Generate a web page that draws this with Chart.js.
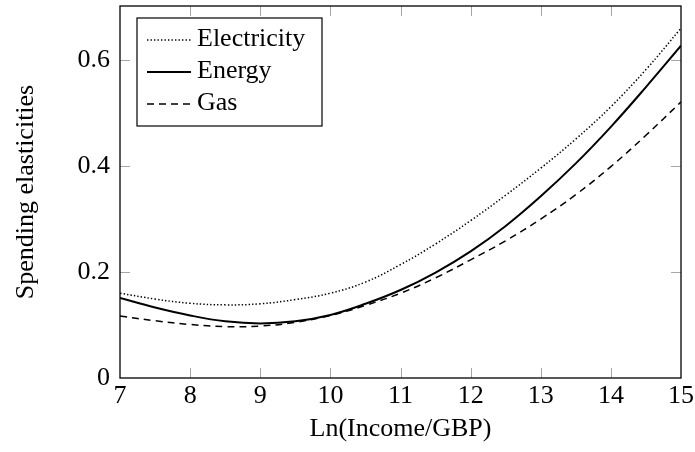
<!DOCTYPE html>
<html>
<head>
<meta charset="utf-8">
<script src="https://cdn.jsdelivr.net/npm/chart.js@4.4.0/dist/chart.umd.min.js"></script>
<style>
  html, body { margin: 0; padding: 0; background: #fff; }
  #wrap { width: 695px; height: 452px; position: relative; }
</style>
</head>
<body>
<div id="wrap"><canvas id="c" width="695" height="452"></canvas></div>
<script>
const xValues = [7, 7.5, 8, 8.5, 9, 9.5, 10, 10.5, 11, 11.5, 12, 12.5, 13, 13.5, 14, 14.5, 15];
const electricity = [0.160, 0.149, 0.141, 0.138, 0.140, 0.148, 0.160, 0.181, 0.214, 0.253, 0.297, 0.345, 0.396, 0.451, 0.512, 0.582, 0.660];
const energy      = [0.151, 0.133, 0.118, 0.107, 0.103, 0.107, 0.119, 0.140, 0.166, 0.199, 0.239, 0.287, 0.343, 0.405, 0.474, 0.549, 0.627];
const gas         = [0.117, 0.108, 0.101, 0.097, 0.098, 0.105, 0.118, 0.137, 0.160, 0.189, 0.223, 0.259, 0.300, 0.346, 0.399, 0.458, 0.521];
const seriesNames = ['Electricity', 'Energy', 'Gas'];
const xTicks = [7, 8, 9, 10, 11, 12, 13, 14, 15];
const yTicks = [0, 0.2, 0.4, 0.6];
const yTickLabels = ['0', '0.2', '0.4', '0.6'];
const xTitle = 'Ln(Income/GBP)';
const yTitle = 'Spending elasticities';

const FONT = '"Liberation Serif", "Times New Roman", serif';
const FS = 26;

function pts(ys) { return xValues.map((x, i) => ({ x: x, y: ys[i] })); }

const framePlugin = {
  id: 'frame',
  afterDatasetsDraw(chart) {
    const ctx = chart.ctx;
    const a = chart.chartArea;
    const xs = chart.scales.x, ys = chart.scales.y;
    const L = 10;
    ctx.save();
    ctx.strokeStyle = '#a6a6a6';
    ctx.lineWidth = 1;
    xTicks.forEach(v => {
      if (v === xs.min || v === xs.max) return;
      const p = Math.round(xs.getPixelForValue(v)) + 0.5;
      ctx.beginPath();
      ctx.moveTo(p, a.bottom); ctx.lineTo(p, a.bottom - L);
      ctx.moveTo(p, a.top); ctx.lineTo(p, a.top + L);
      ctx.stroke();
    });
    yTicks.forEach(v => {
      if (v === ys.min) return;
      const p = Math.round(ys.getPixelForValue(v)) + 0.5;
      ctx.beginPath();
      ctx.moveTo(a.left, p); ctx.lineTo(a.left + L, p);
      ctx.moveTo(a.right, p); ctx.lineTo(a.right - L, p);
      ctx.stroke();
    });
    ctx.strokeStyle = '#000';
    ctx.lineWidth = 1.3;
    ctx.strokeRect(a.left, a.top, a.right - a.left, a.bottom - a.top);

    // legend box
    const bx = 137, by = 18, bw = 185, bh = 108;
    ctx.fillStyle = '#fff';
    ctx.fillRect(bx, by, bw, bh);
    ctx.lineWidth = 1.2;
    ctx.strokeRect(bx, by, bw, bh);
    const rows = [40, 72, 104];
    chart.data.datasets.forEach((ds, i) => {
      ctx.save();
      ctx.strokeStyle = ds.borderColor;
      ctx.lineWidth = ds.borderWidth;
      ctx.setLineDash(ds.borderDash || []);
      ctx.beginPath();
      ctx.moveTo(147, rows[i]); ctx.lineTo(191, rows[i]);
      ctx.stroke();
      ctx.restore();
      ctx.fillStyle = '#000';
      ctx.font = FS + 'px ' + FONT;
      ctx.textBaseline = 'middle';
      ctx.textAlign = 'left';
      ctx.fillText(ds.label, 197, rows[i] - 1);
    });
    ctx.restore();
  }
};

new Chart(document.getElementById('c'), {
  type: 'line',
  data: {
    datasets: [
      { label: seriesNames[0], data: pts(electricity), borderColor: '#000', borderWidth: 1.5, borderDash: [1.4, 2.1], pointRadius: 0, fill: false, tension: 0.4 },
      { label: seriesNames[1], data: pts(energy), borderColor: '#000', borderWidth: 2, pointRadius: 0, fill: false, tension: 0.4 },
      { label: seriesNames[2], data: pts(gas), borderColor: '#000', borderWidth: 1.5, borderDash: [7, 5], pointRadius: 0, fill: false, tension: 0.4 }
    ]
  },
  options: {
    responsive: false,
    animation: false,
    devicePixelRatio: 1,
    layout: { padding: { top: 6, right: 14, left: 0, bottom: 0 } },
    plugins: { legend: { display: false }, tooltip: { enabled: false } },
    scales: {
      x: {
        type: 'linear', min: 7, max: 15,
        afterBuildTicks: s => { s.ticks = xTicks.map(v => ({ value: v })); },
        afterFit: s => { s.height = 74; s.paddingLeft = 0; s.paddingRight = 0; },
        grid: { display: false, drawTicks: false },
        border: { display: false },
        ticks: { color: '#000', padding: 3, font: { family: FONT, size: FS }, callback: v => String(v), maxRotation: 0 },
        title: { display: true, text: xTitle, color: '#000', font: { family: FONT, size: FS }, padding: { top: 0, bottom: 7 } }
      },
      y: {
        type: 'linear', min: 0, max: 0.702,
        afterBuildTicks: s => { s.ticks = yTicks.map(v => ({ value: v })); },
        afterFit: s => { s.width = 120; s.paddingTop = 0; s.paddingBottom = 0; },
        grid: { display: false, drawTicks: false },
        border: { display: false },
        ticks: { color: '#000', padding: 10, font: { family: FONT, size: FS }, callback: v => { const i = yTicks.indexOf(v); return i >= 0 ? yTickLabels[i] : ''; } },
        title: { display: true, text: yTitle, color: '#000', font: { family: FONT, size: FS }, padding: { top: 11, bottom: 0 } }
      }
    }
  },
  plugins: [framePlugin]
});
</script>
</body>
</html>
